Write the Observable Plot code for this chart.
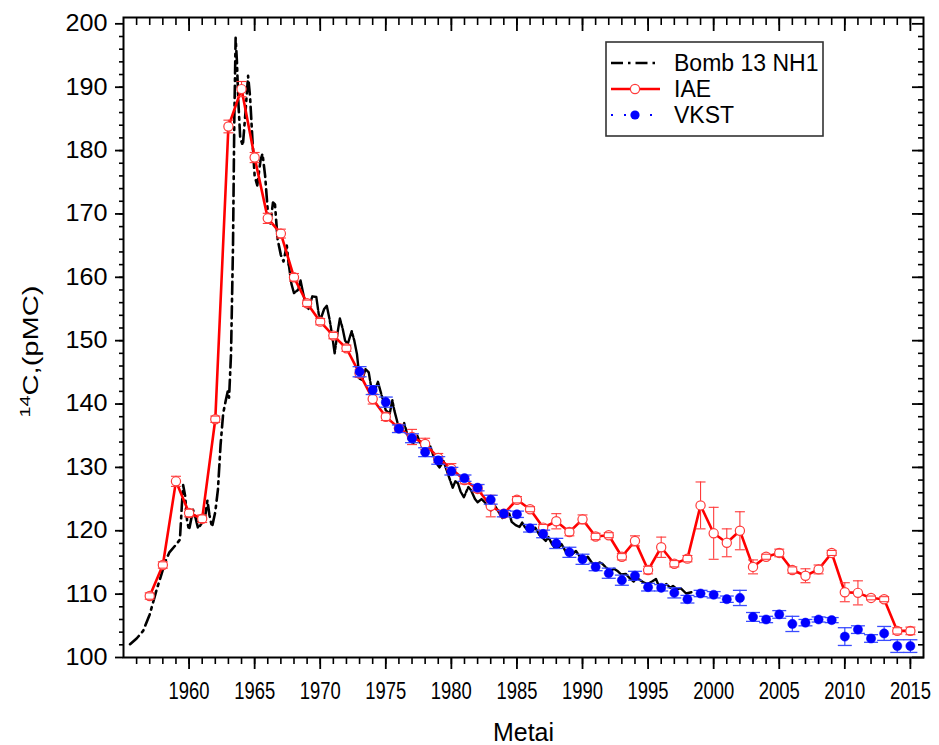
<!DOCTYPE html>
<html>
<head>
<meta charset="utf-8">
<script src="https://cdn.jsdelivr.net/npm/d3@7"></script>
<script src="https://cdn.jsdelivr.net/npm/@observablehq/plot@0.6"></script>
<style>
  html, body { margin: 0; padding: 0; background: #fff; overflow: hidden; }
  #chart svg { display: block; }
</style>
</head>
<body>
<div id="chart"></div>
<script>
// ---- Data ----
const bombYear = [1955.5,1956.0,1956.5,1957.0,1957.5,1957.8,1958.2,1958.5,1959.0,1959.3,1959.45,1959.55,1959.7,1959.85,1960.0,1960.3,1960.5,1960.7,1960.9,1961.2,1961.4,1961.55,1961.75,1962.0,1962.2,1962.4,1962.6,1962.8,1962.95,1963.05,1963.2,1963.35,1963.45,1963.55,1963.65,1963.75,1963.9,1964.1,1964.3,1964.5,1964.65,1964.85,1965.0,1965.2,1965.45,1965.6,1965.8,1966.0,1966.2,1966.4,1966.55,1966.75,1967.0,1967.2,1967.45,1967.6,1967.8,1968.0,1968.3,1968.5,1968.7,1968.9,1969.1,1969.4,1969.7,1969.9,1970.05,1970.3,1970.5,1970.7,1970.9,1971.1,1971.3,1971.5,1971.7,1971.9,1972.1,1972.4,1972.6,1972.8,1973.0,1973.2,1973.45,1973.7,1973.9,1974.1,1974.4,1974.6,1974.8,1975.0,1975.3,1975.5,1975.65,1975.9,1976.1,1976.4,1976.6,1976.8,1977.1,1977.4,1977.6,1977.9,1978.1,1978.4,1978.6,1978.9,1979.1,1979.4,1979.6,1979.9,1980.1,1980.3,1980.5,1980.7,1980.95,1981.3,1981.5,1981.8,1982.0,1982.3,1982.5,1982.8,1983.0,1983.3,1983.6,1983.9,1984.2,1984.4,1984.6,1984.9,1985.2,1985.4,1985.6,1985.9,1986.2,1986.4,1986.7,1986.9,1987.2,1987.4,1987.7,1987.9,1988.2,1988.4,1988.7,1988.9,1989.2,1989.5,1989.8,1990.1,1990.4,1990.7,1990.95,1991.3,1991.5,1991.8,1992.1,1992.4,1992.7,1992.95,1993.3,1993.6,1993.9,1994.2,1994.4,1994.7,1994.95,1995.3,1995.6,1995.8,1996.1,1996.4,1996.7,1996.9,1997.2,1997.5,1997.9,1998.3];
const bombValue = [102.1,103.0,104.2,106.8,110.5,112.5,115.2,116.6,117.8,118.6,124.0,127.2,125.5,121.5,120.1,123.3,122.0,120.3,121.0,121.8,124.8,122.5,120.6,123.0,126.5,133.5,138.5,140.6,142.0,141.0,148.0,165.0,185.0,197.8,194.0,188.0,182.0,180.8,186.0,191.8,188.5,181.0,176.0,174.5,178.5,179.5,176.0,170.5,168.5,171.8,171.5,166.0,163.5,162.5,165.0,162.0,159.0,157.5,158.0,159.5,157.5,155.5,155.0,157.0,156.9,154.0,153.5,155.0,155.5,153.5,151.0,148.0,151.0,153.5,152.0,150.0,149.5,151.5,150.0,147.9,144.0,143.8,145.5,145.0,142.5,141.8,143.5,142.0,140.5,139.0,138.5,140.6,139.0,137.0,135.8,137.0,135.5,134.3,133.8,135.0,134.0,132.8,132.3,133.3,132.0,130.5,130.0,131.0,129.8,128.0,126.8,127.8,127.5,126.2,125.3,126.9,126.4,125.0,124.5,125.0,124.6,123.8,123.2,124.0,123.0,122.0,122.4,122.8,121.4,120.9,120.6,121.3,120.6,119.9,120.1,120.5,119.4,119.0,118.4,119.0,117.8,117.3,117.4,117.9,116.8,116.2,116.3,116.8,115.9,115.4,115.9,115.0,114.6,115.0,114.8,114.2,113.6,114.0,113.6,113.1,113.2,112.5,112.0,112.5,112.2,111.8,111.6,112.0,112.4,111.4,111.2,111.6,111.0,111.3,110.8,110.9,110.1,110.3];

const iaeYear = [1957,1958,1959,1960,1961,1962,1963,1964,1965,1966,1967,1968,1969,1970,1971,1972,1973,1974,1975,1976,1977,1978,1979,1980,1981,1982,1983,1984,1985,1986,1987,1988,1989,1990,1991,1992,1993,1994,1995,1996,1997,1998,1999,2000,2001,2002,2003,2004,2005,2006,2007,2008,2009,2010,2011,2012,2013,2014,2015];
const iaeValue = [109.7,114.6,127.8,122.8,121.9,137.6,183.8,189.7,178.9,169.3,166.9,160.0,155.9,153.0,150.8,148.8,144.8,140.8,138.0,136.2,134.8,133.7,131.5,129.8,128.0,126.6,123.9,122.7,124.9,123.4,120.5,121.5,119.8,121.8,119.1,119.3,115.9,118.4,113.8,117.4,114.8,115.6,124.0,119.6,118.1,120.0,114.3,115.9,116.5,113.8,112.9,113.9,116.5,110.3,110.2,109.4,109.2,104.2,104.2];
const iaeError = [0.5,0.5,0.8,0.6,0.6,0.5,1.0,1.2,0.8,0.8,0.7,0.6,0.5,0.5,0.5,0.5,0.6,0.8,0.6,0.6,1.2,0.9,0.7,0.8,0.6,0.5,1.7,0.5,0.5,0.4,0.5,1.2,0.6,0.7,0.5,0.4,0.5,0.8,0.6,1.6,0.5,0.5,3.7,4.1,2.2,3.0,1.1,0.4,0.6,0.5,1.1,0.7,0.4,1.5,1.9,0.3,0.4,0.5,0.6];

const vkstYear = [1973,1974,1975,1976,1977,1978,1979,1980,1981,1982,1983,1984,1985,1986,1987,1988,1989,1990,1991,1992,1993,1994,1995,1996,1997,1998,1999,2000,2001,2002,2003,2004,2005,2006,2007,2008,2009,2010,2011,2012,2013,2014,2015];
const vkstValue = [145.1,142.2,140.3,136.1,134.6,132.4,131.1,129.4,128.3,126.8,124.9,122.7,122.6,120.4,119.5,118.0,116.6,115.5,114.3,113.3,112.2,112.9,111.1,111.0,110.2,109.2,110.1,109.9,109.2,109.4,106.4,106.0,106.8,105.3,105.5,106.0,105.9,103.3,104.4,103.0,103.8,101.8,101.8];
const vkstError = [0.8,0.7,0.8,0.6,0.7,0.7,0.6,0.6,0.5,0.5,0.7,0.5,0.5,0.6,0.6,0.8,0.8,0.8,0.6,0.8,0.8,0.7,0.6,0.5,0.8,0.6,0.5,0.5,0.5,1.2,0.7,0.5,0.6,1.2,0.5,0.4,0.4,1.4,0.6,0.6,1.1,1.0,1.0];

const xMajorTicks = [1960,1965,1970,1975,1980,1985,1990,1995,2000,2005,2010,2015];
const xMinorTicks = d3.range(1956, 2016);
const yMajorTicks = [100,110,120,130,140,150,160,170,180,190,200];
const yMinorTicks = d3.range(102, 200, 2);

const seriesNames = ["Bomb 13 NH1", "IAE", "VKST"];
const xLabel = "Metai";
const yLabel = "14C,(pMC)";

// ---- Tables ----
const bomb = bombYear.map((x, i) => ({x, y: bombValue[i]}));
// the dense seasonal part reads as an almost continuous line in the original
const bombEarly = bomb.filter(d => d.x <= 1967.6);
const bombLate = bomb.filter(d => d.x >= 1967.6);
const iae = iaeYear.map((x, i) => ({x, y: iaeValue[i], lo: iaeValue[i] - iaeError[i], hi: iaeValue[i] + iaeError[i]}));
const vkst = vkstYear.map((x, i) => ({x, y: vkstValue[i], lo: vkstValue[i] - vkstError[i], hi: vkstValue[i] + vkstError[i]}));
const capsOf = (rows) => rows.flatMap(d => [{x: d.x, y: d.lo}, {x: d.x, y: d.hi}]);

const capSymbol = { draw(ctx, size) { const w = Math.sqrt(size / Math.PI); ctx.moveTo(-w, 0); ctx.lineTo(w, 0); } };

const RED = "#ff0000", RED2 = "#ff3a3a", BLUE = "#0000ff", BLUE2 = "#3a4cff";
const sans = "'Liberation Sans', Arial, Helvetica, sans-serif";
const DASH = "12,5,2.5,5";

const W = 939, H = 745, ML = 123, MR = 16, MT = 17, MB = 88;

const chart = Plot.plot({
  width: W, height: H,
  marginLeft: ML, marginRight: MR, marginTop: MT, marginBottom: MB,
  style: {fontFamily: sans, background: "white", color: "black"},
  x: {domain: [1955, 2016], label: null},
  y: {domain: [100, 201], label: null},
  marks: [
    Plot.line(bombEarly, {x: "x", y: "y", stroke: "black", strokeWidth: 2.6, strokeDasharray: DASH}),
    Plot.line(bombLate, {x: "x", y: "y", stroke: "black", strokeWidth: 2.4, strokeDasharray: "30,2,3,2"}),
    Plot.line(iae, {x: "x", y: "y", stroke: RED, strokeWidth: 2.6}),
    Plot.ruleX(iae, {x: "x", y1: "lo", y2: "hi", stroke: RED2, strokeWidth: 1.1}),
    Plot.dot(iae, {x: "x", y: "y", r: 4.6, fill: "white", stroke: RED2, strokeWidth: 1.2}),
    Plot.dot(capsOf(iae), {x: "x", y: "y", r: 5, symbol: capSymbol, fill: "none", stroke: RED2, strokeWidth: 1.1}),
    Plot.ruleX(vkst, {x: "x", y1: "lo", y2: "hi", stroke: BLUE2, strokeWidth: 1.2}),
    Plot.dot(capsOf(vkst), {x: "x", y: "y", r: 7, symbol: capSymbol, fill: "none", stroke: BLUE2, strokeWidth: 1.3}),
    Plot.dot(vkst, {x: "x", y: "y", r: 4.6, fill: BLUE, stroke: BLUE, strokeWidth: 0.5}),
    Plot.frame({stroke: "black", strokeWidth: 2}),
    // bottom axis (outward)
    Plot.axisX(xMinorTicks, {anchor: "bottom", tickSize: 7, strokeWidth: 1.6, fill: "none", label: null}),
    Plot.axisX(xMajorTicks, {anchor: "bottom", tickSize: 12, strokeWidth: 1.8, fill: "none", label: null}),
    Plot.axisX(xMajorTicks, {anchor: "bottom", tickSize: 0, tickPadding: 25, fontSize: 23, fontFamily: sans, tickFormat: d => String(d), label: null}),
    // top axis (inward)
    Plot.axisX(xMinorTicks, {anchor: "top", tickSize: 7, dy: 7, strokeWidth: 1.6, fill: "none", label: null}),
    Plot.axisX(xMajorTicks, {anchor: "top", tickSize: 13, dy: 13, strokeWidth: 1.8, fill: "none", label: null}),
    // left axis (outward)
    Plot.axisY(yMinorTicks, {anchor: "left", tickSize: 4, strokeWidth: 1.6, fill: "none", label: null}),
    Plot.axisY(yMajorTicks, {anchor: "left", tickSize: 8, strokeWidth: 1.8, fill: "none", label: null}),
    Plot.axisY(yMajorTicks, {anchor: "left", tickSize: 0, tickPadding: 16, fontSize: 23, fontFamily: sans, tickFormat: d => String(d), label: null}),
    // right axis (inward)
    Plot.axisY(yMinorTicks, {anchor: "right", tickSize: 6, dx: -6, strokeWidth: 1.6, fill: "none", label: null}),
    Plot.axisY(yMajorTicks, {anchor: "right", tickSize: 12, dx: -12, strokeWidth: 1.8, fill: "none", label: null}),
    // axis titles
    Plot.text([xLabel], {text: d => d, frameAnchor: "bottom", dy: 83, fontSize: 25, fontFamily: sans, fill: "black", className: "xlab"}),
    Plot.text([yLabel], {text: d => d, frameAnchor: "left", dx: -93, dy: 14, rotate: -90, textAnchor: "middle", fontSize: 22, fontFamily: sans, fill: "black", className: "ylab"})
  ]
});

document.getElementById("chart").appendChild(chart);
const svg = d3.select(chart);

// condensed look of the year labels and axis title, wide look of value labels
svg.selectAll("text").filter(function() { return /^(19|20)\d\d$/.test(this.textContent); })
  .attr("textLength", 41).attr("lengthAdjust", "spacingAndGlyphs");
svg.selectAll("text").filter(function() { return /^(1\d\d|200)$/.test(this.textContent); })
  .attr("textLength", 42).attr("lengthAdjust", "spacingAndGlyphs");
svg.selectAll(".xlab text").attr("textLength", 61).attr("lengthAdjust", "spacingAndGlyphs");

// superscript in y label
svg.selectAll(".ylab text").each(function() {
  const t = d3.select(this);
  t.text(null);
  t.append("tspan").attr("baseline-shift", "super").attr("font-size", 15).text(yLabel.slice(0, 2));
  t.append("tspan").text(yLabel.slice(2));
  t.attr("textLength", 132).attr("lengthAdjust", "spacingAndGlyphs");
});

// legend
const lg = svg.append("g").attr("class", "legend").attr("font-family", sans).attr("font-size", 23).attr("text-anchor", "start");
lg.append("rect").attr("x", 606).attr("y", 42).attr("width", 217).attr("height", 94)
  .attr("fill", "white").attr("stroke", "#333").attr("stroke-width", 1.6);
const rowsY = [63, 89, 115];
lg.append("line").attr("x1", 611).attr("x2", 660).attr("y1", rowsY[0]).attr("y2", rowsY[0])
  .attr("stroke", "black").attr("stroke-width", 2.6).attr("stroke-dasharray", DASH);
lg.append("line").attr("x1", 611).attr("x2", 660).attr("y1", rowsY[1]).attr("y2", rowsY[1])
  .attr("stroke", RED).attr("stroke-width", 2.6);
lg.append("circle").attr("cx", 635).attr("cy", rowsY[1]).attr("r", 4.6).attr("fill", "white").attr("stroke", RED2).attr("stroke-width", 1.2);
lg.append("line").attr("x1", 611).attr("x2", 660).attr("y1", rowsY[2]).attr("y2", rowsY[2])
  .attr("stroke", BLUE).attr("stroke-width", 2).attr("stroke-dasharray", "2,11");
lg.append("circle").attr("cx", 635).attr("cy", rowsY[2]).attr("r", 4.6).attr("fill", BLUE);
seriesNames.forEach((name, i) => {
  lg.append("text").attr("x", 674).attr("y", rowsY[i]).attr("dy", "0.36em").attr("fill", "black").text(name);
});
</script>
</body>
</html>
